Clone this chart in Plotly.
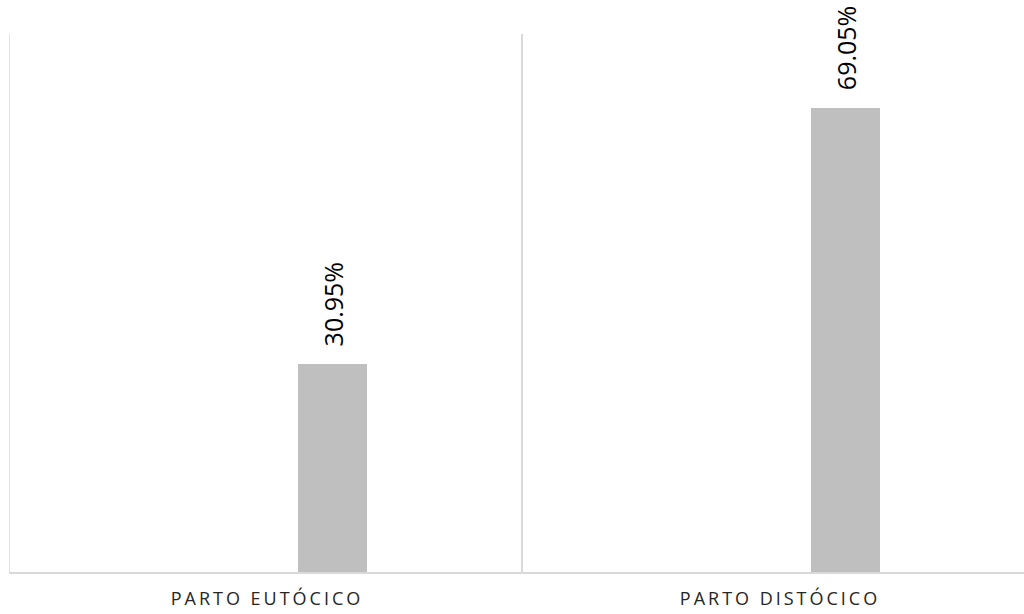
import plotly.graph_objects as go

# Delivery type share (%)
categories = ["PARTO EUTÓCICO", "PARTO DISTÓCICO"]
values = [30.95, 69.05]
labels = ["30.95%", "69.05%"]

SP = "\u2009"  # thin space used to spread the category letters


def spaced(s):
    return SP.join(list(s))


BAR_OFFSET = 0.0634  # left edge of bar relative to category centre
BAR_WIDTH = 0.1345

fig = go.Figure()
fig.add_trace(go.Bar(
    x=categories,
    y=values,
    offset=BAR_OFFSET,
    width=BAR_WIDTH,
    marker=dict(color="#bfbfbf", line=dict(width=0)),
    hoverinfo="skip",
))

for i, (v, t) in enumerate(zip(values, labels)):
    fig.add_annotation(
        x=i + BAR_OFFSET + BAR_WIDTH / 2,
        y=v,
        xref="x",
        yref="y",
        text=t,
        textangle=-90,
        showarrow=False,
        yanchor="bottom",
        xanchor="center",
        yshift=15,
        font=dict(family="Open Sans", size=25, color="#000000"),
    )

# left-hand category boundary line
fig.add_shape(
    type="line", xref="x", yref="paper",
    x0=-0.5, x1=-0.5, y0=0, y1=1,
    line=dict(color="#d9d9d9", width=1.5),
    layer="below",
)

fig.update_layout(
    width=1024,
    height=614,
    margin=dict(l=9, r=0, t=34, b=42),
    paper_bgcolor="white",
    plot_bgcolor="white",
    showlegend=False,
    bargap=0,
)

fig.update_xaxes(
    type="category",
    tickmode="array",
    tickvals=categories,
    ticktext=[spaced(c) for c in categories],
    range=[-0.5, -0.5 + 1015 / 513],
    tickson="boundaries",
    showgrid=True,
    gridcolor="#d9d9d9",
    gridwidth=1.5,
    showline=True,
    linecolor="#d9d9d9",
    linewidth=1.5,
    ticks="",
    ticklabelstandoff=10,
    tickfont=dict(family="Open Sans", size=18, color="#262626"),
    zeroline=False,
)

fig.update_yaxes(
    range=[0, 80],
    showgrid=False,
    showticklabels=False,
    zeroline=False,
    showline=False,
    ticks="",
)

fig.write_html("out.html")
